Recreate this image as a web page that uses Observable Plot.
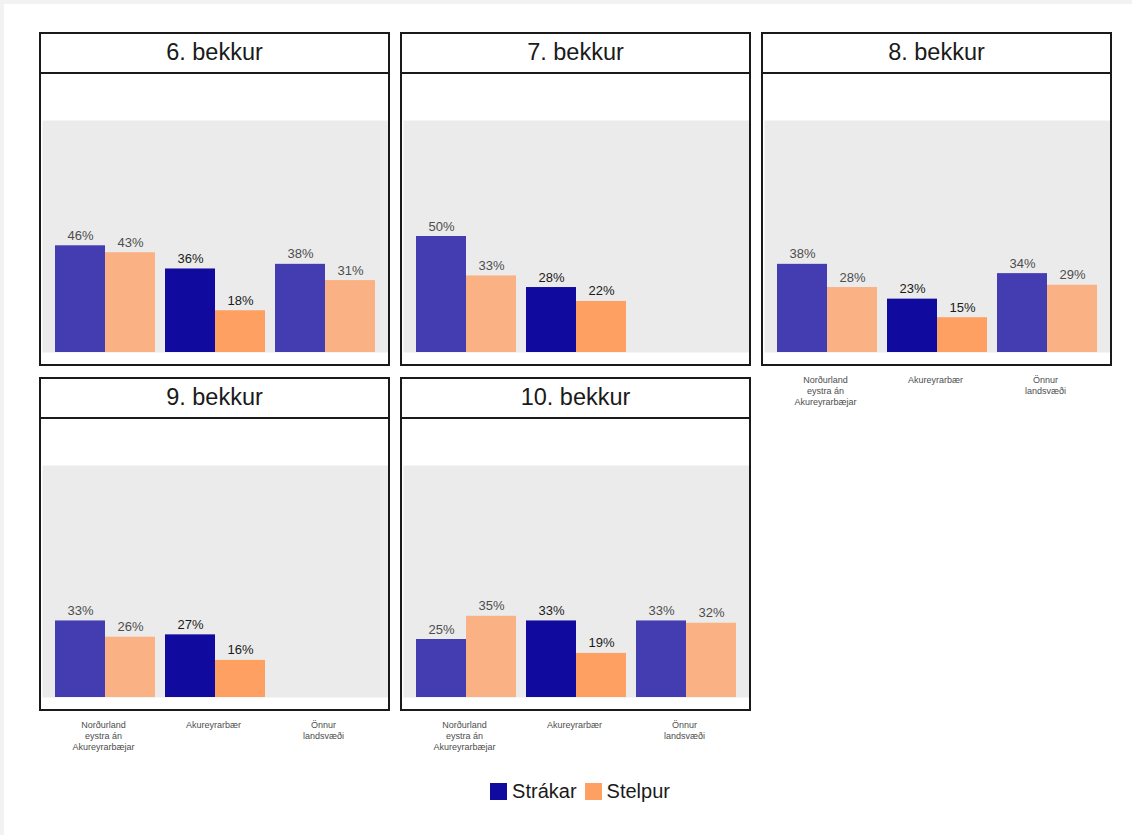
<!DOCTYPE html>
<html>
<head>
<meta charset="utf-8">
<script src="https://cdn.jsdelivr.net/npm/d3@7"></script>
<script src="https://cdn.jsdelivr.net/npm/@observablehq/plot@0.6"></script>
<style>
  html, body { margin: 0; padding: 0; background: #f2f2f2; width: 1132px; height: 835px; overflow: hidden; }
  #page { position: absolute; left: 4px; top: 4px; width: 1128px; height: 831px; background: #fff; }
  .box { position: absolute; box-sizing: border-box; border: 2px solid #1a1a1a; background: transparent; z-index: 2; pointer-events: none; }
  .strip { position: absolute; left: 0; right: 0; top: 0; height: 40px; box-sizing: border-box; border-bottom: 2px solid #1a1a1a;
           font: 23.5px "Liberation Sans", Arial, sans-serif; color: #1a1a1a; text-align: center; line-height: 37px; }
  .plot { position: absolute; z-index: 1; }
  .legend { position: absolute; left: 14px; width: 1132px; top: 780px; text-align: center; font: 20px "Liberation Sans", Arial, sans-serif; color: #1a1a1a; }
  .legend span.item { display: inline-flex; align-items: center; margin: 0 4px; }
  .legend span.sw { display: inline-block; width: 17px; height: 17px; margin-right: 5px; }
</style>
</head>
<body>
<div id="page"></div>
<div id="root"></div>
<script>
// ---- data ----
const grades = ["6. bekkur", "7. bekkur", "8. bekkur", "9. bekkur", "10. bekkur"];
const regions = ["Norðurland eystra án Akureyrarbæjar", "Akureyrarbær", "Önnur landsvæði"];
const regionTickLabels = ["Norðurland\neystra án\nAkureyrarbæjar", "Akureyrarbær", "Önnur\nlandsvæði"];
const sexes = ["Strákar", "Stelpur"];
const boys  = [[46, 36, 38], [50, 28, null], [38, 23, 34], [33, 27, null], [25, 33, 33]];
const girls = [[43, 18, 31], [33, 22, null], [28, 15, 29], [26, 16, null], [35, 19, 32]];
const highlight = "Akureyrarbær";

// ---- styles ----
const colStrong = {"Strákar": "#100a9f", "Stelpur": "#fea061"};
const colFaded  = {"Strákar": "#443db1", "Stelpur": "#fab183"};
const textStrong = "#1a1a1a", textFaded = "#4d4d4d";
const font = '"Liberation Sans", Arial, sans-serif';

const colX = [39, 400, 761];
const rowY = [32, 377];
const BOXW = 351, BOXH = 334;
const W = 347, H = 290;
const padIn = 0.0909, padOut = 0.1227;

const root = document.getElementById("root");

grades.forEach((g, i) => {
  const col = i % 3, row = Math.floor(i / 3);
  const x0 = colX[col], y0 = rowY[row];
  // axis shown on bottom panels in each column
  const showAxis = (row === 1) || (col === 2);

  const data = [];
  regions.forEach((r, j) => {
    if (boys[i][j] != null) data.push({region: r, sex: "Strákar", value: boys[i][j] / 100});
    if (girls[i][j] != null) data.push({region: r, sex: "Stelpur", value: girls[i][j] / 100});
  });

  const bw = d3.scaleBand(regions, [0, W]).paddingInner(padIn).paddingOuter(padOut).bandwidth();
  const fillOf = d => (d.region === highlight ? colStrong : colFaded)[d.sex];
  const textOf = d => d.region === highlight ? textStrong : textFaded;
  const boysData = data.filter(d => d.sex === "Strákar");
  const girlsData = data.filter(d => d.sex === "Stelpur");

  const extra = showAxis ? 46 : 0;
  const chart = Plot.plot({
    width: W,
    height: H + extra,
    marginTop: 46,
    marginBottom: 12 + extra,
    marginLeft: 0,
    marginRight: 0,
    style: {fontFamily: font, background: "transparent", overflow: "visible"},
    x: {domain: regions, paddingInner: padIn, paddingOuter: padOut, axis: null},
    y: {domain: [0, 1], axis: null},
    color: {type: "identity"},
    marks: [
      Plot.frame({fill: "#ebebeb", stroke: "none"}),
      Plot.barY(boysData, {x: "region", y: "value", fill: fillOf, insetRight: bw / 2, insetLeft: 0}),
      Plot.barY(girlsData, {x: "region", y: "value", fill: fillOf, insetLeft: bw / 2, insetRight: 0}),
      Plot.text(boysData, {x: "region", y: "value", text: d => Math.round(d.value * 100) + "%", dx: -bw / 4,
        lineAnchor: "bottom", dy: -6, fontSize: 13, fill: textOf}),
      Plot.text(girlsData, {x: "region", y: "value", text: d => Math.round(d.value * 100) + "%", dx: bw / 4,
        lineAnchor: "bottom", dy: -6, fontSize: 13, fill: textOf}),
      showAxis ? Plot.axisX({domain: regions, tickSize: 0, tickPadding: 23, fontSize: 9, lineHeight: 1.2,
        fill: "#4d4d4d", color: "#4d4d4d", dx: -2, tickFormat: d => regionTickLabels[regions.indexOf(d)], label: null}) : null
    ]
  });
  chart.classList.add("plot");
  chart.style.left = (x0 + 3) + "px";
  chart.style.top = (y0 + 42) + "px";
  root.appendChild(chart);

  const box = document.createElement("div");
  box.className = "box";
  box.style.left = x0 + "px";
  box.style.top = y0 + "px";
  box.style.width = BOXW + "px";
  box.style.height = BOXH + "px";
  const strip = document.createElement("div");
  strip.className = "strip";
  strip.textContent = g;
  strip.style.background = "#fff";
  box.appendChild(strip);
  root.appendChild(box);
});

// legend
const leg = document.createElement("div");
leg.className = "legend";
sexes.forEach(s => {
  const it = document.createElement("span");
  it.className = "item";
  const sw = document.createElement("span");
  sw.className = "sw";
  sw.style.background = colStrong[s];
  it.appendChild(sw);
  it.appendChild(document.createTextNode(s));
  leg.appendChild(it);
});
root.appendChild(leg);
</script>
</body>
</html>
